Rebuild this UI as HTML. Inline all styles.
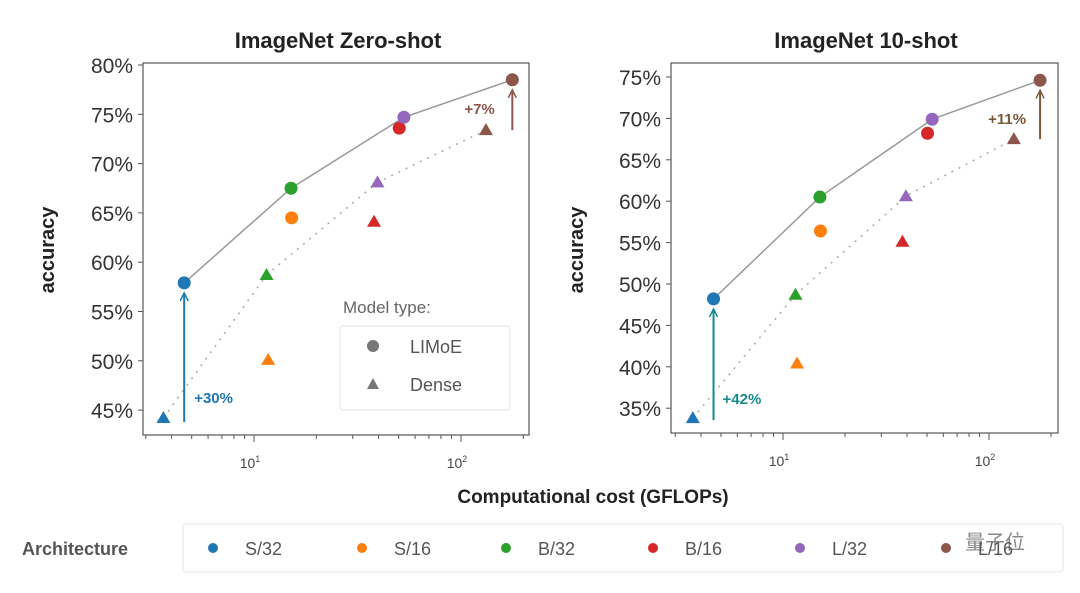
<!DOCTYPE html>
<html><head><meta charset="utf-8"><style>
body{margin:0;background:#fff;width:1080px;height:588px;overflow:hidden;font-family:"Liberation Sans","Noto Sans CJK SC",sans-serif}
svg text{font-family:"Liberation Sans","Noto Sans CJK SC",sans-serif}
</style></head><body>
<svg id="c" width="1080" height="588" viewBox="0 0 1080 588" xmlns="http://www.w3.org/2000/svg">
<text x="338" y="48" text-anchor="middle" font-size="22" font-weight="bold" fill="#222">ImageNet Zero-shot</text>
<text x="866" y="48" text-anchor="middle" font-size="22" font-weight="bold" fill="#222">ImageNet 10-shot</text>
<text x="593" y="503" text-anchor="middle" font-size="19" font-weight="bold" fill="#222">Computational cost (GFLOPs)</text>
<text transform="translate(54,250) rotate(-90)" text-anchor="middle" font-size="20" font-weight="bold" fill="#222">accuracy</text>
<text transform="translate(583,250) rotate(-90)" text-anchor="middle" font-size="20" font-weight="bold" fill="#222">accuracy</text>
<g>
<text x="343" y="313" font-size="17" fill="#666">Model type:</text>
<rect x="340" y="326" width="170" height="84" fill="#fff" stroke="#e4e4e4" rx="3"/>
<circle cx="373" cy="346" r="6" fill="#777"/>
<text x="410" y="353" font-size="18" fill="#555">LIMoE</text>
<polygon points="373,378 379,389 367,389" fill="#777"/>
<text x="410" y="391" font-size="18" fill="#555">Dense</text>
</g>
<g>
<text x="22" y="555" font-size="18" font-weight="bold" fill="#555">Architecture</text>
<rect x="183" y="524" width="880" height="48" fill="#fff" stroke="#e6e6e6" rx="3"/>
</g>
<text x="965" y="549" font-size="20" fill="#888">量子位</text>
</svg>
<script>
const archs=["S/32","S/16","B/32","B/16","L/32","L/16"];
const colors=["#1f77b4","#ff7f0e","#2ca02c","#d62728","#9467bd","#8c564b"];
const gflops=[4.6,15.2,15.1,50.3,53,177];
const denseGflops=[3.65,11.7,11.5,38,39.5,132];
const zeroLimoe=[57.9,64.5,67.5,73.6,74.7,78.5];
const zeroDense=[44.2,50.1,58.7,64.1,68.1,73.4];
const tenLimoe=[48.2,56.4,60.5,68.2,69.9,74.6];
const tenDense=[33.8,40.4,48.7,55.1,60.6,67.5];
const zeroTicks=[45,50,55,60,65,70,75,80];
const tenTicks=[35,40,45,50,55,60,65,70,75];
const frontier=[0,2,4,5];
const NS="http://www.w3.org/2000/svg";
const svg=document.getElementById('c');
function mk(t,a,p){const e=document.createElementNS(NS,t);for(const k in a)e.setAttribute(k,a[k]);(p||svg).appendChild(e);return e;}
function panel(cfg){
 const {x0,x1,y0,y1,yTop,yTopVal,pxPer,dec10,pxDec,ticks,limoe,dense,arrows,name}=cfg;
 const X=v=>dec10+pxDec*(Math.log10(v)-1);
 const Y=v=>yTop+(yTopVal-v)*pxPer;
 const g=mk('g',{});
 
 
 mk('rect',{x:x0,y:y0,width:x1-x0,height:y1-y0,fill:'none',stroke:'#555','stroke-width':1.2},g);
 ticks.forEach(t=>{const y=Y(t);
  mk('line',{x1:x0-5,x2:x0,y1:y,y2:y,stroke:'#555'},g);
  const tx=mk('text',{x:x0-10,y:y+8,'text-anchor':'end','font-size':21,fill:'#333'},g);
  tx.textContent=t+'%';
  
  
 });
 for(let d=0;d<3;d++)for(let m=1;m<10;m++){const v=m*Math.pow(10,d);const x=X(v);if(x<x0||x>x1)continue;
  mk('line',{x1:x,x2:x,y1:y1,y2:y1+(m==1?7:4),stroke:'#555'},g);
  if(m==1){const tx=mk('text',{x:x-4,y:y1+33,'text-anchor':'middle','font-size':14,fill:'#444'},g);
   tx.innerHTML='10<tspan dy="-6" font-size="9">'+d+'</tspan>';
   
   }}
 mk('polyline',{points:frontier.map(i=>X(gflops[i])+','+Y(limoe[i])).join(' '),fill:'none',stroke:'#999','stroke-width':1.5},g);
 mk('polyline',{points:frontier.map(i=>X(denseGflops[i])+','+Y(dense[i])).join(' '),fill:'none',stroke:'#aaa','stroke-width':1.5,'stroke-dasharray':'2,6'},g);
 archs.forEach((a,i)=>{
  const cx=X(denseGflops[i]),cy=Y(dense[i]);
  const tr=mk('polygon',{points:`${cx},${cy-7} ${cx+7},${cy+5} ${cx-7},${cy+5}`,fill:colors[i]},g);
  
  
 });
 archs.forEach((a,i)=>{
  const c=mk('circle',{cx:X(gflops[i]),cy:Y(limoe[i]),r:6.5,fill:colors[i]},g);
  
  
 });
 arrows.forEach(ar=>{
  const x=X(gflops[ar.i])+ar.dx, ya=Y(dense[ar.i===0?0:5])+ar.b, yb=Y(limoe[ar.i])+10;
  mk('line',{x1:x,x2:x,y1:ya,y2:yb,stroke:ar.c,'stroke-width':2},g);
  mk('polyline',{points:`${x-4},${yb+8} ${x},${yb} ${x+4},${yb+8}`,fill:'none',stroke:ar.c,'stroke-width':1.5},g);
  const t=mk('text',{x:x+ar.tx,y:ar.ty,'font-size':15,'font-weight':'bold',fill:ar.c},g);
  t.textContent=ar.label;
  
  
 });
}
panel({name:'zero-shot-panel',x0:143,x1:529,y0:63,y1:435,yTop:65,yTopVal:80,pxPer:9.86,dec10:254,pxDec:207,ticks:zeroTicks,limoe:zeroLimoe,dense:zeroDense,
 arrows:[{i:0,dx:0,b:4,c:'#1f77b4',label:'+30%',tx:10,ty:403},{i:5,dx:0,b:0,c:'#8c564b',label:'+7%',tx:-48,ty:114}]});
panel({name:'ten-shot-panel',x0:671,x1:1058,y0:63,y1:433,yTop:77,yTopVal:75,pxPer:8.28,dec10:783,pxDec:206,ticks:tenTicks,limoe:tenLimoe,dense:tenDense,
 arrows:[{i:0,dx:0,b:2,c:'#168a8a',label:'+42%',tx:9,ty:404},{i:5,dx:0,b:0,c:'#7a5a3a',label:'+11%',tx:-52,ty:124}]});
const lx=[213,362,506,653,800,946];
archs.forEach((a,i)=>{
 const c=mk('circle',{cx:lx[i],cy:548,r:5,fill:colors[i]});
 
 
 const t=mk('text',{x:lx[i]+32,y:555,'font-size':18,fill:'#555'});
 t.textContent=a;
 
 
});
</script>
</body></html>
